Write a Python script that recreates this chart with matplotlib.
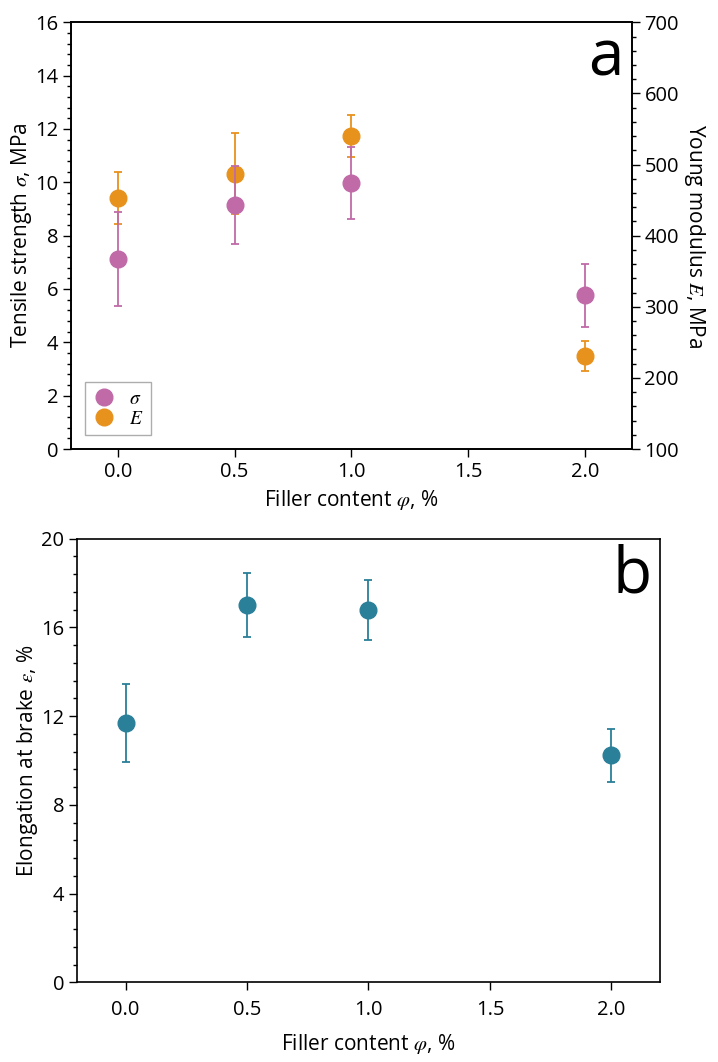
import numpy as np
import matplotlib as mpl
from matplotlib import pyplot as plt
from matplotlib.ticker import AutoMinorLocator, MultipleLocator
from matplotlib.lines import Line2D

mpl.rcParams['font.family'] = ['Open Sans', 'DejaVu Sans']
mpl.rcParams['mathtext.fontset'] = 'stix'
mpl.rcParams['font.size'] = 14

# filler content, %
phi = [0.0, 0.5, 1.0, 2.0]

# tensile strength, MPa
sigma = [7.13, 9.16, 9.97, 5.76]
sigma_err = [1.76, 1.47, 1.35, 1.17]

# Young modulus, MPa
young = [453, 487, 540, 231]
young_err = [37, 57, 29, 21]

# elongation at break, %
elong = [11.68, 17.01, 16.80, 10.23]
elong_err = [1.76, 1.46, 1.35, 1.19]

c_sigma = '#c06aa8'
c_young = '#e8921e'
c_elong = '#2a7f99'

fig = plt.figure(figsize=(7.18, 10.62), dpi=100)


def style_axis(ax, pad=3):
    ax.tick_params(which='major', direction='out', length=6, width=1, labelsize=14.5, pad=pad)
    ax.tick_params(which='minor', direction='out', length=3, width=1)
    for s in ax.spines.values():
        s.set_linewidth(1.2)


# ---- panel a ----
ax = fig.add_axes([0.0989, 0.5772, 0.7813, 0.4018])
ax2 = ax.twinx()
ax2.errorbar(phi, young, yerr=young_err, fmt='o', color=c_young, ms=12,
             ecolor=c_young, elinewidth=1.3, capsize=3, capthick=1.3)
ax.errorbar(phi, sigma, yerr=sigma_err, fmt='o', color=c_sigma, ms=12,
            ecolor=c_sigma, elinewidth=1.3, capsize=3, capthick=1.3)
ax.set_zorder(ax2.get_zorder() + 1)
ax.patch.set_visible(False)

ax.set_xlim(-0.2, 2.2)
ax.set_ylim(0, 16)
ax2.set_ylim(100, 700)
ax.xaxis.set_major_locator(MultipleLocator(0.5))
ax.yaxis.set_major_locator(MultipleLocator(2))
ax.yaxis.set_minor_locator(AutoMinorLocator(5))
ax2.yaxis.set_major_locator(MultipleLocator(100))
ax2.yaxis.set_minor_locator(AutoMinorLocator(5))
style_axis(ax)
style_axis(ax2)
ax.set_xlabel(r'Filler content $\varphi$, %', fontsize=15, labelpad=5)
ax.set_ylabel(r'Tensile strength $\sigma$, MPa', fontsize=15, labelpad=1)
ax2.set_ylabel(r'Young modulus $E$, MPa', fontsize=15, rotation=270, labelpad=20)
ax.text(0.985, 0.99, 'a', transform=ax.transAxes, ha='right', va='top', fontsize=46)

handles = [Line2D([], [], marker='o', ls='none', color=c_sigma, ms=12),
           Line2D([], [], marker='o', ls='none', color=c_young, ms=12)]
leg = ax.legend(handles, [r'$\sigma$', r'$E$'], loc='lower left', fancybox=False,
                edgecolor='#999999', fontsize=14, handletextpad=0.7, handlelength=1.2,
                borderaxespad=0.7, labelspacing=0.1, borderpad=0.4)
leg.get_frame().set_linewidth(1.0)

# ---- panel b ----
bx = fig.add_axes([0.1072, 0.075, 0.8120, 0.4177])
bx.errorbar(phi, elong, yerr=elong_err, fmt='o', color=c_elong, ms=12,
            ecolor=c_elong, elinewidth=1.3, capsize=3, capthick=1.3)
bx.set_xlim(-0.2, 2.2)
bx.set_ylim(0, 20)
bx.xaxis.set_major_locator(MultipleLocator(0.5))
bx.yaxis.set_major_locator(MultipleLocator(4))
bx.yaxis.set_minor_locator(AutoMinorLocator(5))
style_axis(bx)
bx.tick_params(axis='x', pad=7)
bx.set_xlabel(r'Filler content $\varphi$, %', fontsize=15, labelpad=8)
bx.set_ylabel(r'Elongation at brake $\varepsilon$, %', fontsize=15, labelpad=1)
bx.text(0.985, 0.99, 'b', transform=bx.transAxes, ha='right', va='top', fontsize=46)

plt.savefig('out.png', dpi=100)
plt.close()
